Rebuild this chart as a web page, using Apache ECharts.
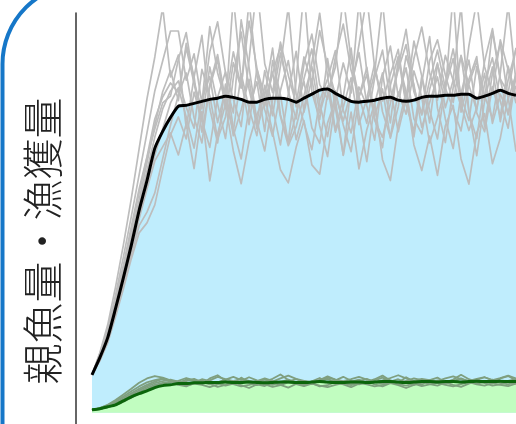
<!DOCTYPE html>
<html>
<head>
<meta charset="utf-8">
<script src="https://cdn.jsdelivr.net/npm/echarts@6/dist/echarts.min.js"></script>
<style>
html, body { margin: 0; padding: 0; background: #fff; }
#main { width: 516px; height: 424px; }
</style>
</head>
<body>
<div id="main"></div>
<script>
var y_name = '親魚量・漁獲量'

var years = [1,2,3,4,5,6,7,8,9,10,11,12,13,14,15,16,17,18,19,20,
    21,22,23,24,25,26,27,28,29,30,31,32,33,34,35,36,37,38,39,40,
    41,42,43,44,45,46,47,48,49,50,51,52,53,54,55]

// mean spawner biomass (black) and mean catch (dark green)
var spawner_mean = [
    9.5,13.8,18.8,26.1,33.8,41.9,50.6,58.1,66.2,70.4,73.9,
    76.7,76.9,77.4,77.9,78.4,78.7,79.2,78.9,78.4,77.7,
    77.7,78.4,78.7,78.7,78.4,77.7,78.7,79.7,80.7,81.0,
    79.9,78.9,77.9,77.7,77.9,78.2,78.7,78.9,78.2,77.9,
    78.2,78.9,79.2,79.2,79.4,79.4,79.7,79.7,78.7,79.2,
    79.9,80.7,79.9,79.4]

var catch_mean = [
    0.75,1.0,1.5,2.0,3.0,4.0,4.8,5.5,6.3,6.8,7.0,
    7.3,7.3,7.5,7.5,7.6,7.6,7.7,7.6,7.6,7.7,7.6,
    7.5,7.6,7.7,7.7,7.6,7.6,7.7,7.8,7.7,7.6,7.6,
    7.7,7.7,7.6,7.7,7.8,7.8,7.7,7.6,7.7,7.8,7.8,
    7.7,7.8,7.8,7.7,7.8,7.9,7.8,7.8,7.9,7.8,7.8]

// individual simulation runs (gray)
var spawner_run1 = [9.5,14.2,19.5,27.4,35.1,44.0,53.2,62.5,72.0,80.3,85.6,
    78.1,92.4,84.0,70.2,81.5,88.3,76.0,104.0,83.4,72.1,86.0,
    79.3,91.2,74.5,68.0,83.1,106.0,80.2,73.4,88.6,76.2,64.5,
    82.0,90.1,77.3,85.0,103.0,81.4,70.3,78.6,93.0,84.2,72.5,
    87.1,80.0,105.0,75.2,83.4,89.1,71.5,85.0,92.3,78.4,84.6]
var spawner_run2 = [9.5,15.0,22.0,31.5,42.0,53.5,66.0,78.5,89.0,101.5,84.0,
    89.5,71.2,84.0,94.4,76.1,67.5,82.2,75.0,98.3,86.4,73.0,
    65.5,78.4,90.0,81.1,68.3,75.8,87.5,100.0,84.2,70.6,79.0,
    91.2,74.4,62.8,77.3,85.0,72.5,88.4,80.3,69.0,82.5,94.1,
    76.2,67.6,81.4,89.2,75.5,64.3,78.1,86.5,72.8,83.3,91.0]
var spawner_run3 = [9.5,13.0,17.5,24.0,31.0,38.5,45.0,47.5,52.0,61.0,69.5,
    74.0,68.5,80.2,73.1,66.4,78.9,85.3,71.0,63.5,76.2,82.8,
    70.4,88.1,79.5,67.2,74.8,83.6,91.0,77.3,69.1,80.5,72.0,
    65.3,79.1,86.4,74.2,81.0,68.7,76.5,89.3,82.1,71.4,77.6,
    84.0,73.5,66.1,79.8,88.2,75.0,70.3,81.6,74.1,86.7,79.2]
var spawner_run4 = [9.5,14.5,20.0,28.5,37.0,46.5,56.0,64.0,73.5,79.0,82.5,
    80.1,91.3,82.4,73.0,86.5,77.2,68.6,83.8,95.2,81.0,72.3,
    85.6,76.4,67.0,79.7,90.4,75.2,83.5,71.8,64.1,78.3,87.5,
    80.0,103.0,85.4,73.6,66.3,81.9,89.1,77.0,70.4,84.2,75.7,
    68.5,82.3,91.0,79.2,73.1,86.6,78.0,95.5,83.3,74.5,85.0]
var spawner_run5 = [9.5,13.5,18.0,25.0,32.5,40.5,48.5,56.0,63.0,66.5,70.0,
    64.5,72.3,61.1,75.4,58.0,69.8,77.2,65.5,57.3,67.9,74.6,
    79.1,70.2,60.8,57.5,66.4,73.1,62.0,59.7,72.5,78.3,64.4,
    75.2,61.0,70.8,77.5,63.3,58.1,71.9,80.4,67.0,60.6,69.2,
    59.4,71.8,76.9,63.5,57.2,70.1,74.8,62.3,68.7,79.0,65.3]
var spawner_run6 = [9.5,14.0,19.0,26.5,34.5,43.0,52.0,60.5,69.0,76.0,80.5,
    83.0,76.4,71.2,85.9,79.3,68.5,74.0,87.6,81.2,103.0,84.5,
    75.8,69.2,80.6,88.1,76.5,82.9,71.3,67.4,79.8,86.5,104.0,
    88.3,79.0,84.6,73.2,68.9,77.4,85.8,92.1,80.3,74.5,83.1,
    90.7,81.2,76.0,70.5,82.3,87.9,79.4,73.6,85.0,102.0,82.7]
var spawner_run7 = [9.5,14.8,21.0,29.5,39.0,49.0,59.5,70.0,80.5,88.0,95.5,
    95.5,83.2,89.8,77.4,96.6,85.0,78.1,90.3,81.5,98.0,86.2,
    76.7,84.9,91.6,80.2,73.5,87.3,94.7,82.1,78.4,89.0,97.2,
    85.6,79.1,72.4,83.8,90.7,78.0,86.4,95.9,81.2,74.8,88.1,
    93.3,84.5,77.6,89.4,82.0,75.7,87.9,96.1,83.5,80.0,91.3]
var spawner_run8 = [9.5,13.8,18.5,25.5,33.0,41.0,49.5,57.5,64.5,71.0,77.5,
    81.3,74.0,66.2,78.5,84.1,72.6,80.9,69.3,75.8,83.4,71.0,
    77.9,85.2,74.1,66.8,71.5,79.4,86.6,75.0,81.7,70.2,76.4,
    83.8,72.1,78.6,87.4,75.3,69.0,80.2,74.7,85.5,78.9,67.5,
    73.8,81.4,88.6,77.0,70.6,76.3,84.9,72.4,79.7,75.1,81.8]
var spawner_run9 = [9.5,14.3,19.8,27.8,36.2,45.5,55.0,63.8,71.0,77.5,79.2,
    88.4,95.1,82.6,76.0,90.3,97.8,85.1,78.4,71.6,88.2,107.0,
    87.3,80.1,92.7,84.4,77.2,89.0,82.3,95.6,86.8,79.5,73.0,
    80.6,92.0,104.0,86.3,78.0,84.7,90.9,77.5,88.6,96.5,85.0,
    78.2,89.4,83.1,76.6,91.8,103.0,86.5,80.0,93.3,85.8,77.4]
var spawner_run10 = [9.5,13.2,17.8,24.8,32.0,39.5,46.8,50.2,55.0,63.5,72.0,
    79.5,85.0,73.8,67.5,82.1,89.6,78.0,70.4,84.8,76.1,69.3,
    81.9,74.3,86.8,101.5,79.6,72.4,65.8,78.1,83.5,90.6,75.7,
    70.0,81.5,76.8,68.2,84.0,91.7,79.2,86.3,73.5,69.8,80.9,
    87.5,76.3,83.2,102.0,74.9,68.6,82.5,88.8,77.9,71.2,84.3]

var catch_run1 = [0.75,1.2,2.0,3.2,4.6,6.0,7.5,8.6,9.2,8.8,8.1,
    7.5,8.3,7.9,7.2,8.6,9.4,8.0,7.3,8.8,7.6,6.9,
    7.8,8.5,9.6,8.2,7.4,6.8,7.9,8.7,7.5,8.1,9.0,
    8.0,7.1,7.7,8.4,9.3,8.1,7.5,8.9,7.8,7.0,8.2,
    8.8,7.6,8.3,9.5,8.4,7.7,8.0,7.3,8.6,9.2,8.1]
var catch_run2 = [0.75,1.1,1.7,2.6,3.7,4.9,6.0,7.0,7.8,8.5,7.9,
    7.0,6.6,7.4,8.1,7.3,6.5,7.0,7.8,6.9,6.2,7.1,
    6.7,7.5,7.0,6.3,7.2,8.0,7.4,6.6,6.9,7.7,7.1,
    6.4,7.3,7.9,7.1,6.6,7.4,6.9,6.2,7.0,7.8,7.2,
    6.8,7.6,7.0,6.5,7.3,8.1,7.4,6.8,7.1,7.7,7.3]
var catch_run3 = [0.75,1.0,1.4,2.0,2.8,3.8,4.8,5.8,6.7,7.3,7.6,
    8.0,8.7,8.2,7.6,8.1,9.0,8.4,7.9,8.5,8.0,7.7,
    8.3,7.8,8.6,9.3,8.5,8.0,7.6,8.2,8.8,8.3,7.9,
    8.4,9.0,8.3,7.8,8.1,8.7,9.4,8.6,8.0,8.5,8.2,
    7.9,8.6,9.1,8.4,8.0,8.5,8.9,8.2,8.7,9.3,8.6]
var catch_run4 = [0.75,1.1,1.6,2.4,3.4,4.5,5.6,6.6,7.4,7.9,8.3,
    7.8,7.2,7.6,8.4,7.9,7.4,6.8,7.3,8.0,8.9,8.1,
    7.4,7.0,7.7,8.3,7.6,7.1,7.5,8.2,9.1,8.3,7.6,
    7.2,7.9,8.5,7.7,7.3,7.8,8.4,7.6,7.0,7.5,8.1,
    7.7,7.2,7.9,8.6,7.8,7.3,7.7,8.3,7.5,7.1,7.8]
var catch_run5 = [0.75,1.2,1.9,2.9,4.1,5.4,6.6,7.6,8.2,8.6,8.0,
    7.4,7.9,8.5,7.7,7.1,7.6,8.3,9.0,8.2,7.5,7.9,
    8.6,8.0,7.3,7.8,8.4,7.7,7.2,7.9,8.5,7.6,7.3,
    7.8,8.3,7.5,8.1,8.8,7.9,7.4,8.0,8.6,8.2,7.6,
    8.1,7.5,7.9,8.4,7.6,8.2,8.9,8.1,7.6,8.0,8.4]
var catch_run6 = [0.75,1.0,1.5,2.2,3.1,4.1,5.2,6.2,7.0,7.5,7.8,
    7.2,6.8,7.3,7.0,6.4,7.1,7.7,7.2,6.6,7.0,7.5,
    7.1,6.5,6.9,7.6,7.2,6.7,7.3,6.8,6.4,7.0,7.4,
    6.9,7.5,7.1,6.6,7.0,7.6,7.2,6.8,7.3,6.7,7.1,
    7.5,7.0,6.6,7.2,7.7,7.1,6.8,7.4,7.0,6.7,7.3]

var spawner_runs = [spawner_run1, spawner_run2, spawner_run3, spawner_run4, spawner_run5,
    spawner_run6, spawner_run7, spawner_run8, spawner_run9, spawner_run10]
var catch_runs = [catch_run1, catch_run2, catch_run3, catch_run4, catch_run5, catch_run6]


function line_series(data, color, width, smooth) {
    return {
        type: 'line',
        data: data,
        showSymbol: false,
        smooth: smooth,
        clip: true,
        silent: true,
        lineStyle: { color: color, width: width, join: 'round' },
    }
}

function area_series(data, color, smooth) {
    return {
        type: 'line',
        data: data,
        showSymbol: false,
        smooth: smooth,
        clip: true,
        silent: true,
        lineStyle: { width: 0 },
        areaStyle: { color: color, opacity: 1, origin: 'auto' },
    }
}

function build_series() {
    var series = []
    series.push(area_series(spawner_mean, '#bfedfd', 0.2))
    for (var i = 0; i < spawner_runs.length; i++) {
        series.push(line_series(spawner_runs[i], '#bdbdbd', 1.7, false))
    }
    series.push(line_series(spawner_mean, '#000000', 3, 0.2))
    series.push(area_series(catch_mean, '#c1fdc0', 0.2))
    for (var j = 0; j < catch_runs.length; j++) {
        series.push(line_series(catch_runs[j], '#7f9f7f', 1.8, false))
    }
    series.push(line_series(catch_mean, '#0b650b', 3, 0.2))
    return series
}

var myChart = echarts.init(document.getElementById('main'), null, { renderer: 'canvas' })
var option = {
    animation: false,
    backgroundColor: '#ffffff',
    grid: { left: 92, top: 13, right: -10, bottom: 0 },
    xAxis: {
        type: 'category',
        data: years,
        boundaryGap: false,
        show: false,
    },
    yAxis: {
        type: 'value',
        min: -2.8,
        max: 100,
        offset: 16,
        axisLine: { show: true, lineStyle: { color: '#333333', width: 1.5 } },
        axisTick: { show: false },
        axisLabel: { show: false },
        splitLine: { show: false },
    },
    graphic: [
        {
            type: 'rect',
            shape: { x: 2.5, y: -16, width: 700, height: 700, r: 80 },
            style: { fill: 'none', stroke: '#1677c8', lineWidth: 4 },
            silent: true,
        },
        {
            type: 'text',
            x: 42,
            y: 241,
            rotation: Math.PI / 2,
            style: {
                text: y_name,
                font: '300 41px "Noto Sans CJK JP"',
                fill: '#222222',
                align: 'center',
                verticalAlign: 'middle',
            },
            silent: true,
        },
    ],
    series: build_series(),
}
myChart.setOption(option)
</script>
</body>
</html>
